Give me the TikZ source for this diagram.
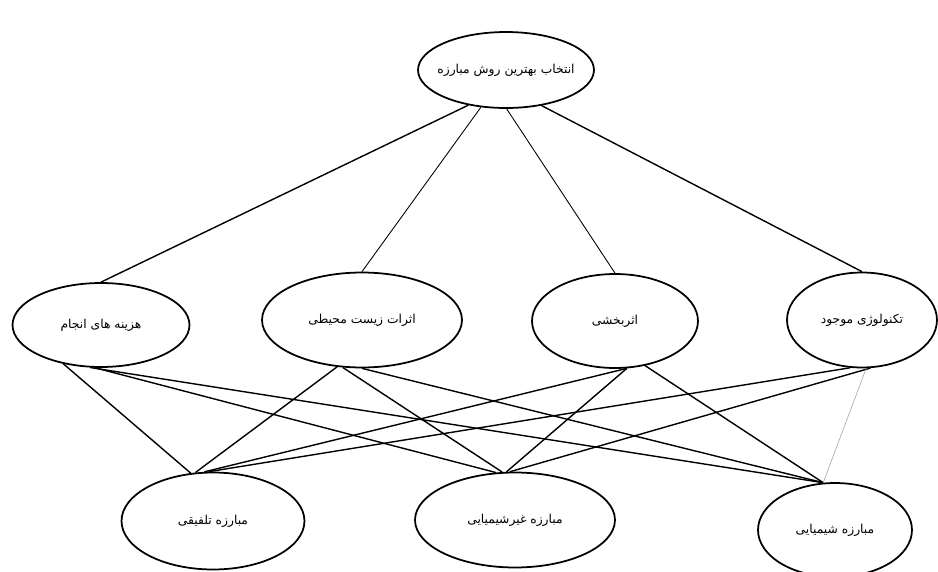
\documentclass[tikz,border=0pt]{standalone}
\usepackage{fontspec}
\newfontfamily\arabicfont[Script=Arabic]{DejaVu Sans}
\TeXXeTstate=1
\usetikzlibrary{shapes.geometric}

\tikzset{
	oval/.style={ellipse, draw, line width=1pt, inner xsep=-8pt, inner ysep=0pt,
		font=\arabicfont\fontsize{7}{8}\selectfont},
	link/.style={line width=0.8pt},
	thinlink/.style={line width=0.5pt},
	faintlink/.style={line width=0.35pt, black!35}
}

\begin{document}
\begin{tikzpicture}[x=0.02cm, y=-0.02cm]
\clip (0,0) rectangle (938,572);
% goal
\node[oval, minimum width=3.52cm, minimum height=1.52cm] (goal) at (506,70) {\beginR انتخاب بهترین روش مبارزه\endR};
% criteria
\node[oval, minimum width=3.54cm, minimum height=1.68cm] (cost) at (101,325) {\beginR هزینه های انجام\endR};
\node[oval, minimum width=4.0cm, minimum height=1.9cm] (env) at (362,320) {\beginR اثرات زیست محیطی\endR};
\node[oval, minimum width=3.32cm, minimum height=1.88cm] (eff) at (615,321) {\beginR اثربخشی\endR};
\node[oval, minimum width=3.0cm, minimum height=1.9cm] (tech) at (862,320) {\beginR تکنولوژی موجود\endR};
% alternatives
\node[oval, minimum width=3.66cm, minimum height=1.94cm] (integ) at (213,521) {\beginR مبارزه تلفیقی\endR};
\node[oval, minimum width=4.0cm, minimum height=1.9cm] (nonchem) at (515,520) {\beginR مبارزه غیرشیمیایی\endR};
\node[oval, minimum width=3.08cm, minimum height=1.88cm] (chem) at (835,530) {\beginR مبارزه شیمیایی\endR};

% goal to criteria
\draw[link] (goal.223) -- (cost.north);
\draw[thinlink] (goal.236) -- (env.north);
\draw[thinlink] (goal.271) -- (eff.north);
\draw[link] (goal.315) -- (tech.north);

% criteria to alternatives
\draw[link] (cost.226) -- (integ.115);
\draw[link] (cost.262) -- (nonchem.112);
\draw[link] (cost.256) -- (chem.104);
\draw[link] (env.242) -- (integ.110);
\draw[link] (env.248) -- (nonchem.105);
\draw[link] (env.270) -- (chem.104);
\draw[link] (eff.284) -- (integ.100);
\draw[link] (eff.284) -- (nonchem.100);
\draw[link] (eff.304) -- (chem.104);
\draw[link] (tech.256) -- (integ.95);
\draw[link] (tech.280) -- (nonchem.96);
\draw[faintlink] (tech.275) -- (chem.104);
\end{tikzpicture}
\end{document}
